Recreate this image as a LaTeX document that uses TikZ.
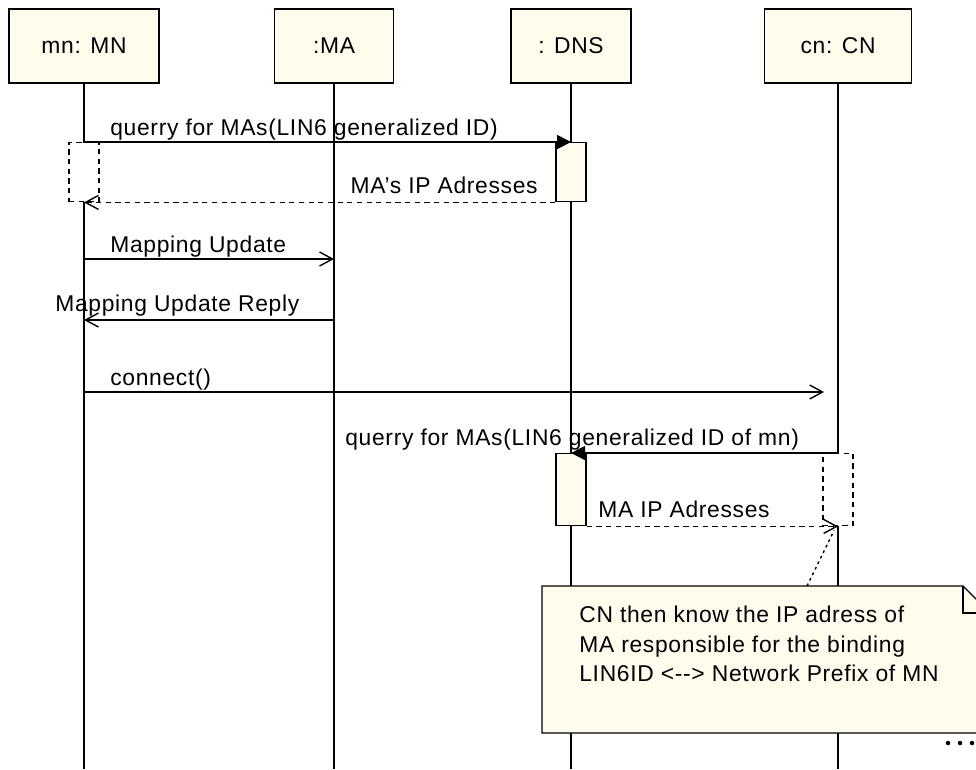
\documentclass[tikz,border=0pt]{standalone}
\usepackage{fontspec}
\setmainfont{Liberation Sans}[LetterSpace=3]
\usepackage{xcolor}
\usepackage{tikz}
\usetikzlibrary{arrows.meta, positioning, calc}
\definecolor{umlfill}{HTML}{FFFCEE}

\begin{document}
\begin{tikzpicture}[x=0.02cm, y=-0.02cm,
    every node/.style={font=\fontsize{13}{16.8}\selectfont},
    head/.style={draw, fill=umlfill, line width=0.9pt, minimum height=1.48cm, inner sep=0pt},
    life/.style={line width=0.8pt},
    act/.style={draw, fill=umlfill, line width=0.8pt, minimum width=0.6cm, inner sep=0pt, anchor=north},
    wait/.style={draw, fill=white, dash pattern=on 3pt off 2.5pt, line width=0.8pt,
        minimum width=0.6cm, inner sep=0pt, anchor=north},
    msg/.style={inner sep=0pt, anchor=base west},
    sync/.style={-{Triangle[length=0.28cm,width=0.28cm]}, line width=0.8pt},
    async/.style={-{Straight Barb[length=0.26cm,width=0.28cm]}, line width=0.8pt},
    ret/.style={async, dash pattern=on 3pt off 2.5pt},
    notebox/.style={draw, fill=umlfill, line width=0.8pt},
    anchorln/.style={line width=0.8pt, dash pattern=on 1.5pt off 2pt},
]
\useasboundingbox (0,0) rectangle (976,769);
\clip (0,0) rectangle (976,769);

% object heads
\node[head, minimum width=3cm] (mn) at (84,46) {mn: MN};
\node[head, minimum width=2.38cm, right=2.28cm of mn] (ma) {:MA};
\node[head, minimum width=2.4cm, right=2.32cm of ma] (dns) {: DNS};
\node[head, minimum width=2.94cm, right=2.64cm of dns] (cn) {cn: CN};

% lifelines
\coordinate (bot) at (0,769);
\foreach \o in {mn,ma,dns,cn}
    \draw[life] (\o.south) -- (\o.south |- bot);

% activations
\node[wait, minimum height=1.18cm] (wmn) at (mn.south |- 0,142) {};
\node[act, minimum height=1.18cm] (a1) at (dns.south |- 0,142) {};
\node[act, minimum height=1.44cm] (a2) at (dns.south |- 0,453) {};
\node[wait, minimum height=1.44cm] (wcn) at (cn.south |- 0,453) {};

% messages
\draw[sync] (mn.south |- a1.north) -- (a1.north);
\node[msg] (t1) at (110,135) {querry for MAs(LIN6 generalized ID)};
\draw[ret] (a1.south west) -- (wmn.south);
\node[msg, anchor=base east] (t2) at (538,193) {MA’s IP Adresses};

\draw[async] (mn.south |- 0,259) -- (ma.south |- 0,259);
\node[msg] (t3) at (110,252) {Mapping Update};
\draw[async] (ma.south |- 0,320) -- (mn.south |- 0,320);
\node[msg] (t4) at (55,311) {Mapping Update Reply};
\draw[async, shorten >=0.28cm] (mn.south |- 0,392) -- (cn.south |- 0,392);
\node[msg] (t5) at (110,385) {connect()};

\draw[sync] (cn.south |- a2.north) -- (a2.north);
\node[msg] (t6) at (345,445) {querry for MAs(LIN6 generalized ID of mn)};
\draw[ret] (a2.south east) -- (wcn.south);
\node[msg] (t7) at (598,517) {MA IP Adresses};

% note
\draw[notebox] (542,586) -- (963,586) -- (990,613) -- (990,733) -- (542,733) -- cycle;
\draw[line width=0.8pt] (963,586) -- (963,613) -- (990,613);
\coordinate (ntop) at (807,586);
\draw[anchorln] (ntop) -- ($(wcn.south)+(-4,4)$);
\node[msg, anchor=north west, align=left] (note) at (579,606)
    {CN then know the IP adress of\\MA responsible for the binding\\LIN6ID <-{}-> Network Prefix of MN};

\foreach \x in {948,960,972}
    \fill (\x,743) circle (0.045cm);
\end{tikzpicture}
\end{document}
